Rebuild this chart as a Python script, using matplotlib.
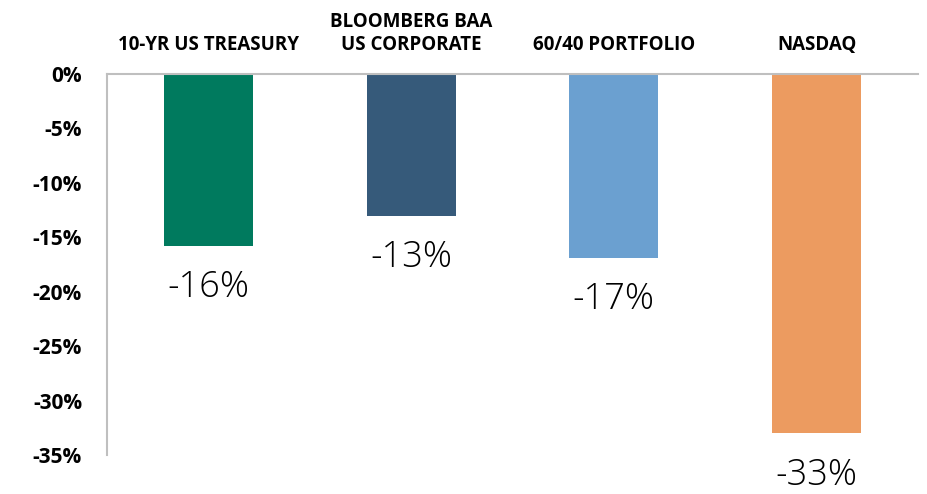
import matplotlib
matplotlib.use("Agg")
import matplotlib.pyplot as plt
import numpy as np

categories = ["10-YR US TREASURY", "BLOOMBERG BAA\nUS CORPORATE", "60/40 PORTFOLIO", "NASDAQ"]
returns = [-15.8, -13.0, -16.9, -33.0]
value_labels = ["-16%", "-13%", "-17%", "-33%"]
colors = ["#007A5E", "#365A7A", "#6BA0D0", "#EC9B60"]
yticks = [0, -5, -10, -15, -20, -25, -30, -35]

plt.rcParams['font.family'] = ['Open Sans', 'DejaVu Sans']

fig = plt.figure(figsize=(9.27, 4.94), dpi=100)
ax = fig.add_axes([107 / 927, 1 - 455 / 494, 811 / 927, 381 / 494])

x = np.arange(len(categories))
ax.bar(x, returns, width=0.44, color=colors, zorder=2)

ax.set_xlim(-0.5, len(categories) - 0.5)
ax.set_ylim(-35, 0)
ax.set_yticks(yticks)
ax.set_yticklabels([f"{v}%" for v in yticks], fontsize=15, fontweight='bold')
ax.tick_params(axis='y', length=0, pad=18)
ax.set_xticks([])

for side in ['right', 'bottom']:
    ax.spines[side].set_visible(False)
for side in ['left', 'top']:
    ax.spines[side].set_color('#BFBFBF')
    ax.spines[side].set_linewidth(1.5)

# category labels above the zero line
for xi, name in zip(x, categories):
    ax.annotate(name, xy=(xi, 0), xytext=(0, 14), textcoords='offset points',
                ha='center', va='bottom', fontsize=13.5, fontweight='bold',
                linespacing=1.2, annotation_clip=False)

# value labels under each bar
for xi, v, lab in zip(x, returns, value_labels):
    ax.annotate(lab, xy=(xi, v), xytext=(0, -37), textcoords='offset points',
                ha='center', va='baseline', fontsize=26, fontweight='light',
                annotation_clip=False)

fig.savefig("out.png", dpi=100)
